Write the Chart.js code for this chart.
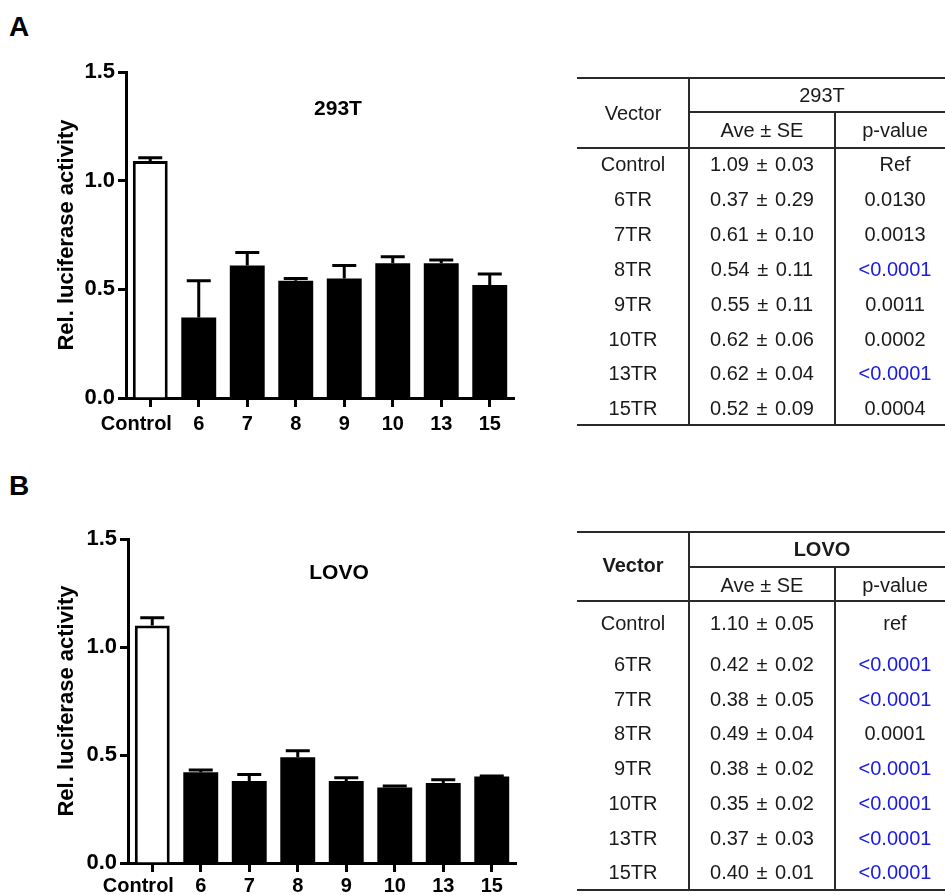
<!DOCTYPE html>
<html>
<head>
<meta charset="utf-8">
<script src="https://cdn.jsdelivr.net/npm/chart.js@4.4.1/dist/chart.umd.min.js"></script>
<style>
  html, body { margin: 0; padding: 0; background: #fff; }
  body { width: 945px; height: 895px; position: relative; overflow: hidden;
         font-family: 'Liberation Sans', Arial, Helvetica, sans-serif; color: #111; }
  canvas { position: absolute; }
  .t { position: absolute; width: 200px; text-align: center; line-height: 24px; height: 24px; font-size: 20px; white-space: pre; color: #1a1a1a; }
  .ws { word-spacing: 2px; }
  .b { font-weight: bold; }
  .blue { color: #1a1ae6; }
  .ln { position: absolute; background: #2a2a2a; }
  .panel { position: absolute; font-weight: bold; font-size: 28px; line-height: 30px; color: #000; }
  .ctitle { position: absolute; font-weight: bold; font-size: 21px; line-height: 24px; width: 120px; text-align: center; color: #000; }
</style>
</head>
<body>
<div class="panel" style="left:9px; top:12px;">A</div>
<div class="panel" style="left:9px; top:471px;">B</div>
<canvas id="cA" width="540" height="462" style="left:0; top:0;"></canvas>
<canvas id="cB" width="540" height="435" style="left:0; top:460px;"></canvas>
<div class="ctitle" style="left:278px; top:96px;">293T</div>
<div class="ctitle" style="left:279px; top:560px;">LOVO</div>
<div id="tabA"></div>
<div id="tabB"></div>
<script>
// ---------------- DATA ----------------
const categories = ['Control', '6', '7', '8', '9', '10', '13', '15'];
const yTicks = [0, 0.5, 1.0, 1.5];

// Panel A (293T)
const mean293T = [1.09, 0.37, 0.61, 0.54, 0.55, 0.62, 0.62, 0.52];
const errBar293T = [0.015, 0.17, 0.06, 0.01, 0.06, 0.03, 0.015, 0.05];

// Panel B (LOVO)
const meanLOVO = [1.10, 0.42, 0.38, 0.49, 0.38, 0.35, 0.37, 0.40];
const errBarLOVO = [0.035, 0.01, 0.03, 0.03, 0.015, 0.006, 0.015, 0.003];

// Tables
const vectors = ['Control', '6TR', '7TR', '8TR', '9TR', '10TR', '13TR', '15TR'];
const aveTab293T = ['1.09', '0.37', '0.61', '0.54', '0.55', '0.62', '0.62', '0.52'];
const seTab293T  = ['0.03', '0.29', '0.10', '0.11', '0.11', '0.06', '0.04', '0.09'];
const p293T      = ['Ref', '0.0130', '0.0013', '<0.0001', '0.0011', '0.0002', '<0.0001', '0.0004'];
const aveTabLOVO = ['1.10', '0.42', '0.38', '0.49', '0.38', '0.35', '0.37', '0.40'];
const seTabLOVO  = ['0.05', '0.02', '0.05', '0.04', '0.02', '0.02', '0.03', '0.01'];
const pLOVO      = ['ref', '<0.0001', '<0.0001', '0.0001', '<0.0001', '<0.0001', '<0.0001', '<0.0001'];

// ---------------- CHARTS ----------------
const FONT = "'Liberation Sans', Arial, Helvetica, sans-serif";
Chart.defaults.font.family = FONT;

const errorBars = {
  id: 'errorBars',
  afterDatasetsDraw(chart) {
    const ds = chart.data.datasets[0];
    const meta = chart.getDatasetMeta(0);
    const ys = chart.scales.y;
    const ctx = chart.ctx;
    ctx.save();
    ctx.strokeStyle = '#000';
    ctx.lineWidth = 3;
    meta.data.forEach((bar, i) => {
      const v = ds.data[i];
      const yb = ys.getPixelForValue(v);
      const yt = ys.getPixelForValue(v + ds.errors[i]);
      ctx.beginPath();
      ctx.moveTo(bar.x, yb);
      ctx.lineTo(bar.x, yt);
      ctx.moveTo(bar.x - 12, yt);
      ctx.lineTo(bar.x + 12, yt);
      ctx.stroke();
    });
    ctx.restore();
  }
};

function makeChart(id, means, errs, geo) {
  return new Chart(document.getElementById(id), {
    type: 'bar',
    data: {
      labels: categories,
      datasets: [{
        data: means,
        errors: errs,
        backgroundColor: categories.map((c, i) => i === 0 ? '#ffffff' : '#000000'),
        borderColor: '#000000',
        borderWidth: categories.map((c, i) => i === 0 ? 3 : 0),
        barPercentage: 0.72,
        categoryPercentage: 1.0
      }]
    },
    options: {
      responsive: false,
      animation: false,
      devicePixelRatio: 1,
      layout: { padding: { top: geo.top, right: geo.right, left: 0, bottom: 0 } },
      plugins: { legend: { display: false }, tooltip: { enabled: false } },
      scales: {
        x: {
          grid: { display: true, drawOnChartArea: false, drawTicks: true, tickLength: 9, tickWidth: 3, tickColor: '#000', offset: false },
          border: { display: true, color: '#000', width: 3 },
          ticks: {
            color: '#000', font: { family: FONT, size: 20, weight: 'bold' }, padding: geo.xpad, maxRotation: 0, autoSkip: false,
            callback(v, i) { const l = this.getLabelForValue(v); return i === 0 ? l + '     ' : l; }
          },
          afterFit(s) { s.height = geo.xh; }
        },
        y: {
          min: 0, max: 1.5,
          afterBuildTicks(s) { s.ticks = yTicks.map(v => ({ value: v })); },
          ticks: { color: '#000', font: { family: FONT, size: 22, weight: 'bold' }, padding: 3, callback: v => Number(v).toFixed(1) },
          grid: { display: true, drawOnChartArea: false, drawTicks: true, tickLength: 8, tickWidth: 3, tickColor: '#000' },
          border: { display: true, color: '#000', width: 3 },
          title: { display: true, text: 'Rel. luciferase activity', color: '#000', font: { family: FONT, size: 22, weight: 'bold' }, padding: { top: 54, bottom: 0 } },
          afterFit(s) { s.width = geo.left; }
        }
      }
    },
    plugins: [errorBars]
  });
}

makeChart('cA', mean293T, errBar293T, { top: 72, right: 26, left: 126, xh: 64, xpad: 5 });
makeChart('cB', meanLOVO, errBarLOVO, { top: 79, right: 24, left: 128, xh: 32, xpad: 2 });

// ---------------- TABLES ----------------
function addText(parent, txt, cx, cy, cls) {
  const d = document.createElement('div');
  d.className = 't ' + (cls || '');
  d.textContent = txt;
  d.style.left = (cx - 100) + 'px';
  d.style.top = (cy - 12) + 'px';
  parent.appendChild(d);
}
function addLine(parent, x1, y1, x2, y2) {
  const d = document.createElement('div');
  d.className = 'ln';
  const w = 2;
  if (y1 === y2) {
    d.style.left = x1 + 'px'; d.style.top = (y1 - w / 2) + 'px';
    d.style.width = (x2 - x1) + 'px'; d.style.height = w + 'px';
  } else {
    d.style.left = (x1 - w / 2) + 'px'; d.style.top = y1 + 'px';
    d.style.width = w + 'px'; d.style.height = (y2 - y1) + 'px';
  }
  parent.appendChild(d);
}

function buildTable(id, group, aves, ses, ps, g) {
  const el = document.getElementById(id);
  const L = 577, V1 = 689, V2 = 835, R = 945;
  const c1 = 633, c2 = 762, c3 = 895;
  addLine(el, L, g.top, R, g.top);
  addLine(el, V1, g.mid, R, g.mid);
  addLine(el, L, g.head, R, g.head);
  addLine(el, L, g.bottom, R, g.bottom);
  addLine(el, V1, g.top, V1, g.bottom + 1);
  addLine(el, V2, g.mid, V2, g.bottom + 1);
  addText(el, 'Vector', c1, g.vecY, g.bold ? 'b' : '');
  addText(el, group, (V1 + 955) / 2, g.grpY, g.bold ? 'b' : '');
  addText(el, 'Ave \u00b1 SE', c2, g.subY);
  addText(el, 'p-value', c3, g.subY);
  vectors.forEach((v, i) => {
    const cy = g.rowY(i);
    addText(el, v, c1, cy);
    addText(el, aves[i] + ' \u00b1 ' + ses[i], c2, cy, 'ws');
    addText(el, ps[i], c3, cy, ps[i].startsWith('<') ? 'blue' : '');
  });
}

buildTable('tabA', '293T', aveTab293T, seTab293T, p293T, {
  top: 78, mid: 112, head: 148, bottom: 425, vecY: 113, grpY: 95, subY: 130, bold: false,
  rowY: i => 164 + 34.9 * i
});
buildTable('tabB', 'LOVO', aveTabLOVO, seTabLOVO, pLOVO, {
  top: 532, mid: 567, head: 601, bottom: 890, vecY: 565, grpY: 549, subY: 585, bold: true,
  rowY: i => i === 0 ? 623 : 664 + 34.7 * (i - 1)
});
</script>
</body>
</html>
